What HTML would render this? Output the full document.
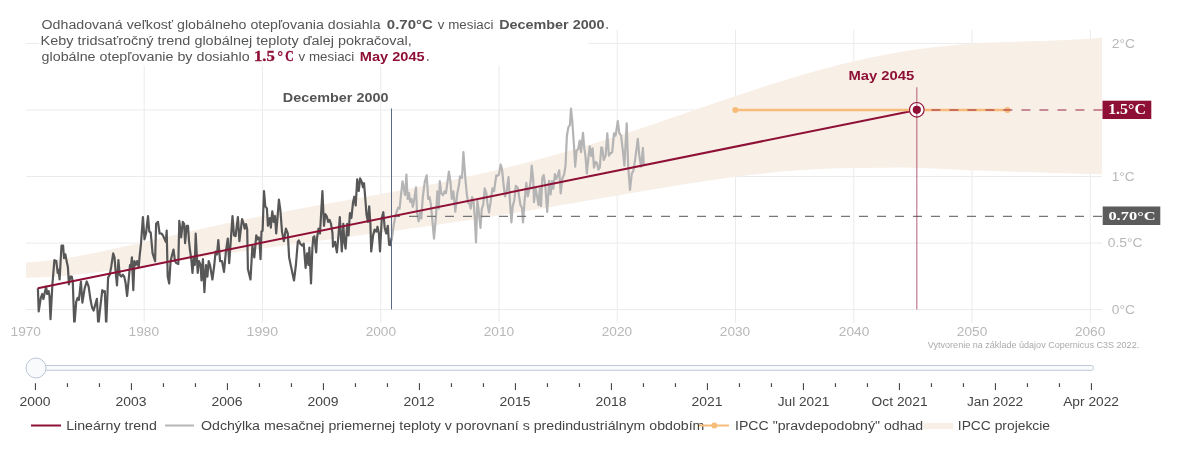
<!DOCTYPE html>
<html><head><meta charset="utf-8"><style>
html,body{margin:0;padding:0;background:#fff;width:1190px;height:450px;overflow:hidden}
svg{display:block;will-change:transform}
</style></head><body>
<svg width="1190" height="450" viewBox="0 0 1190 450">
<rect width="1190" height="450" fill="#fff"/>
<defs><clipPath id="pa"><rect x="26" y="30" width="1076" height="292.6"/></clipPath></defs>
<line x1="144.2" y1="30" x2="144.2" y2="322.6" stroke="#ebebeb" stroke-width="1"/>
<line x1="262.5" y1="30" x2="262.5" y2="322.6" stroke="#ebebeb" stroke-width="1"/>
<line x1="380.7" y1="30" x2="380.7" y2="322.6" stroke="#ebebeb" stroke-width="1"/>
<line x1="499.0" y1="30" x2="499.0" y2="322.6" stroke="#ebebeb" stroke-width="1"/>
<line x1="617.2" y1="30" x2="617.2" y2="322.6" stroke="#ebebeb" stroke-width="1"/>
<line x1="735.5" y1="30" x2="735.5" y2="322.6" stroke="#ebebeb" stroke-width="1"/>
<line x1="853.8" y1="30" x2="853.8" y2="322.6" stroke="#ebebeb" stroke-width="1"/>
<line x1="972.0" y1="30" x2="972.0" y2="322.6" stroke="#ebebeb" stroke-width="1"/>
<line x1="1090.3" y1="30" x2="1090.3" y2="322.6" stroke="#ebebeb" stroke-width="1"/>
<line x1="26" y1="309.6" x2="1102" y2="309.6" stroke="#ebebeb" stroke-width="1"/>
<line x1="26" y1="243.1" x2="1102" y2="243.1" stroke="#ebebeb" stroke-width="1"/>
<line x1="26" y1="176.5" x2="1102" y2="176.5" stroke="#ebebeb" stroke-width="1"/>
<line x1="26" y1="110.0" x2="1102" y2="110.0" stroke="#ebebeb" stroke-width="1"/>
<line x1="26" y1="43.4" x2="1102" y2="43.4" stroke="#ebebeb" stroke-width="1"/>
<path d="M26.0,262.5 L32.8,262.1 L39.5,261.5 L46.3,260.8 L53.1,260.0 L59.8,259.1 L66.6,258.0 L73.4,256.9 L80.1,255.7 L86.9,254.4 L93.7,253.1 L100.4,251.7 L107.2,250.3 L114.0,248.8 L120.7,247.3 L127.5,245.8 L134.3,244.2 L141.0,242.7 L147.8,241.1 L154.6,239.5 L161.3,238.0 L168.1,236.4 L174.9,234.8 L181.6,233.3 L188.4,231.7 L195.2,230.2 L201.9,228.7 L208.7,227.2 L215.5,225.7 L222.3,224.2 L229.0,222.8 L235.8,221.3 L242.6,219.9 L249.3,218.5 L256.1,217.2 L262.9,215.8 L269.6,214.5 L276.4,213.2 L283.2,211.9 L289.9,210.6 L296.7,209.3 L303.5,208.1 L310.2,206.8 L317.0,205.6 L323.8,204.3 L330.5,203.1 L337.3,201.9 L344.1,200.7 L350.8,199.4 L357.6,198.2 L364.4,197.0 L371.1,195.8 L377.9,194.5 L384.7,193.3 L391.4,192.1 L398.2,190.8 L405.0,189.5 L411.7,188.2 L418.5,186.9 L425.3,185.6 L432.0,184.2 L438.8,182.9 L445.6,181.5 L452.3,180.0 L459.1,178.6 L465.9,177.1 L472.6,175.6 L479.4,174.1 L486.2,172.5 L492.9,170.9 L499.7,169.3 L506.5,167.7 L513.2,166.0 L520.0,164.3 L526.8,162.5 L533.5,160.7 L540.3,158.9 L547.1,157.0 L553.8,155.2 L560.6,153.2 L567.4,151.3 L574.2,149.3 L580.9,147.3 L587.7,145.2 L594.5,143.2 L601.2,141.1 L608.0,138.9 L614.8,136.8 L621.5,134.6 L628.3,132.4 L635.1,130.2 L641.8,127.9 L648.6,125.7 L655.4,123.4 L662.1,121.1 L668.9,118.8 L675.7,116.5 L682.4,114.2 L689.2,111.8 L696.0,109.5 L702.7,107.2 L709.5,104.9 L716.3,102.6 L723.0,100.3 L729.8,98.0 L736.6,95.7 L743.3,93.4 L750.1,91.2 L756.9,89.0 L763.6,86.8 L770.4,84.6 L777.2,82.5 L783.9,80.4 L790.7,78.3 L797.5,76.3 L804.2,74.3 L811.0,72.4 L817.8,70.5 L824.5,68.6 L831.3,66.9 L838.1,65.1 L844.8,63.4 L851.6,61.8 L858.4,60.3 L865.1,58.7 L871.9,57.3 L878.7,55.9 L885.4,54.6 L892.2,53.4 L899.0,52.2 L905.7,51.1 L912.5,50.1 L919.3,49.1 L926.1,48.2 L932.8,47.3 L939.6,46.6 L946.4,45.9 L953.1,45.2 L959.9,44.6 L966.7,44.1 L973.4,43.6 L980.2,43.2 L987.0,42.8 L993.7,42.5 L1000.5,42.2 L1007.3,41.9 L1014.0,41.7 L1020.8,41.5 L1027.6,41.3 L1034.3,41.1 L1041.1,40.9 L1047.9,40.7 L1054.6,40.5 L1061.4,40.2 L1068.2,40.0 L1074.9,39.6 L1081.7,39.2 L1088.5,38.8 L1095.2,38.2 L1102.0,37.5 L1102.0,174.2 L1095.2,174.0 L1088.5,173.9 L1081.7,173.7 L1074.9,173.5 L1068.2,173.3 L1061.4,173.1 L1054.6,172.9 L1047.9,172.7 L1041.1,172.5 L1034.3,172.3 L1027.6,172.1 L1020.8,171.9 L1014.0,171.7 L1007.3,171.5 L1000.5,171.2 L993.7,171.0 L987.0,170.8 L980.2,170.6 L973.4,170.4 L966.7,170.1 L959.9,169.8 L953.1,169.5 L946.4,169.2 L939.6,168.8 L932.8,168.5 L926.1,168.2 L919.3,168.0 L912.5,167.8 L905.7,167.6 L899.0,167.6 L892.2,167.6 L885.4,167.7 L878.7,167.7 L871.9,167.8 L865.1,167.9 L858.4,168.0 L851.6,168.1 L844.8,168.2 L838.1,168.3 L831.3,168.5 L824.5,168.8 L817.8,169.1 L811.0,169.4 L804.2,169.8 L797.5,170.2 L790.7,170.7 L783.9,171.3 L777.2,172.0 L770.4,172.7 L763.6,173.4 L756.9,174.2 L750.1,175.0 L743.3,175.8 L736.6,176.7 L729.8,177.6 L723.0,178.5 L716.3,179.4 L709.5,180.4 L702.7,181.4 L696.0,182.5 L689.2,183.5 L682.4,184.6 L675.7,185.7 L668.9,186.8 L662.1,187.9 L655.4,189.0 L648.6,190.1 L641.8,191.3 L635.1,192.4 L628.3,193.6 L621.5,194.8 L614.8,195.9 L608.0,197.1 L601.2,198.3 L594.5,199.4 L587.7,200.6 L580.9,201.8 L574.2,203.0 L567.4,204.1 L560.6,205.3 L553.8,206.4 L547.1,207.6 L540.3,208.7 L533.5,209.8 L526.8,210.9 L520.0,212.0 L513.2,213.1 L506.5,214.2 L499.7,215.3 L492.9,216.3 L486.2,217.4 L479.4,218.4 L472.6,219.5 L465.9,220.5 L459.1,221.5 L452.3,222.5 L445.6,223.5 L438.8,224.5 L432.0,225.4 L425.3,226.4 L418.5,227.4 L411.7,228.3 L405.0,229.2 L398.2,230.2 L391.4,231.1 L384.7,232.0 L377.9,232.9 L371.1,233.8 L364.4,234.7 L357.6,235.6 L350.8,236.6 L344.1,237.5 L337.3,238.4 L330.5,239.3 L323.8,240.2 L317.0,241.1 L310.2,242.0 L303.5,242.9 L296.7,243.8 L289.9,244.7 L283.2,245.7 L276.4,246.6 L269.6,247.5 L262.9,248.5 L256.1,249.4 L249.3,250.4 L242.6,251.4 L235.8,252.3 L229.0,253.3 L222.3,254.3 L215.5,255.3 L208.7,256.3 L201.9,257.3 L195.2,258.3 L188.4,259.3 L181.6,260.4 L174.9,261.4 L168.1,262.4 L161.3,263.4 L154.6,264.4 L147.8,265.4 L141.0,266.4 L134.3,267.4 L127.5,268.4 L120.7,269.3 L114.0,270.2 L107.2,271.1 L100.4,272.0 L93.7,272.8 L86.9,273.6 L80.1,274.3 L73.4,275.0 L66.6,275.6 L59.8,276.2 L53.1,276.7 L46.3,277.1 L39.5,277.4 L32.8,277.6 L26.0,277.8Z" fill="#f8efe7"/>
<rect x="39.3" y="12" width="549.3" height="53.5" fill="#fff"/>
<g clip-path="url(#pa)">
<polyline fill="none" stroke="#b4b4b4" stroke-width="2.2" stroke-linejoin="round" points="391.5,238.0 392.3,235.8 393.8,224.2 395.4,216.4 396.7,211.6 398.1,207.7 399.6,208.7 401.0,195.0 402.5,181.4 403.9,189.3 405.0,195.0 406.4,174.5 407.7,199.0 408.9,193.0 410.2,201.9 411.6,199.0 412.8,206.8 414.1,200.0 416.0,187.4 417.0,212.6 418.6,221.3 419.9,212.6 421.3,218.4 422.8,197.1 424.8,181.6 426.7,175.4 428.2,199.0 429.6,197.1 430.9,204.8 432.1,217.4 434.0,238.7 436.0,216.4 437.3,191.3 438.7,208.7 439.8,181.2 441.2,193.2 443.1,195.1 444.5,191.3 446.0,193.2 447.0,185.5 448.9,171.6 450.3,180.6 451.8,199.0 453.4,191.3 455.3,211.6 457.2,194.2 459.2,183.5 460.0,176.4 462.0,178.0 463.4,152.2 465.4,179.3 466.9,195.1 468.3,202.9 469.6,203.8 470.8,208.7 472.1,197.1 473.5,201.0 474.7,216.4 476.0,242.5 477.4,200.9 478.9,212.6 480.5,228.0 481.8,208.7 483.2,204.8 484.7,188.4 486.3,193.2 487.6,204.8 489.0,212.6 490.5,202.9 492.4,188.4 494.0,191.3 495.4,181.6 496.3,175.4 497.3,175.8 498.8,175.1 500.7,164.5 502.0,169.3 503.6,184.8 505.0,196.4 506.5,192.6 508.5,177.1 510.0,202.2 511.4,222.5 512.7,206.1 514.3,200.3 515.8,185.8 517.8,187.7 519.1,196.4 520.5,205.1 522.0,208.0 523.0,222.5 524.5,202.2 526.3,182.9 527.8,196.4 529.4,188.7 530.7,181.0 531.7,165.5 533.2,179.0 534.0,202.2 535.6,188.7 537.1,196.4 538.5,205.1 539.8,188.7 541.0,206.1 542.3,178.0 543.7,175.1 545.2,184.8 547.2,211.9 549.1,180.9 550.6,194.5 552.0,181.0 553.3,188.7 554.9,174.2 556.4,179.0 557.8,175.1 559.2,170.3 560.7,193.5 562.2,179.0 564.2,174.2 565.5,165.8 566.9,135.8 568.4,127.1 569.9,125.1 571.0,108.7 572.3,121.3 573.9,144.5 575.2,166.7 576.6,150.3 578.1,149.3 579.7,140.6 581.0,152.2 583.0,132.9 584.3,148.4 585.5,156.1 586.8,173.5 588.2,160.0 589.7,146.4 591.3,156.1 592.6,148.4 594.0,167.7 595.5,161.9 597.0,162.9 598.4,169.6 599.8,167.7 601.3,147.4 602.2,147.8 603.8,160.0 605.6,155.6 607.3,133.3 608.9,155.6 610.4,153.3 612.2,152.2 614.0,133.3 615.6,135.6 617.8,121.1 619.3,133.3 621.1,135.6 622.9,151.1 624.4,165.6 626.7,123.3 628.2,166.7 630.0,190.0 631.8,173.3 633.3,171.1 634.9,161.1 637.8,138.9 639.3,155.6 641.1,166.7 642.9,147.8 643.8,164.4"/>
<polyline fill="none" stroke="#575757" stroke-width="2.2" stroke-linejoin="round" points="37.9,288.2 38.7,311.4 40.8,297.9 42.2,294.0 43.4,298.9 44.7,293.1 46.1,286.7 47.2,294.0 48.6,291.1 49.5,296.0 50.5,319.2 52.4,284.4 54.4,260.2 56.3,261.1 57.7,272.8 58.6,269.8 59.6,279.5 61.5,245.7 63.1,245.7 64.0,258.2 65.4,254.4 66.6,261.1 67.9,266.9 68.9,284.4 70.4,276.6 71.8,276.6 72.8,282.4 74.3,326.0 76.2,301.8 77.6,297.9 78.9,299.8 80.9,281.5 82.4,302.7 84.7,288.2 86.7,281.5 88.6,286.3 90.5,299.8 92.1,307.6 93.6,310.5 95.0,305.6 96.9,298.9 98.3,326.0 100.0,309.5 102.3,290.2 103.9,292.1 104.8,291.1 106.2,326.0 108.1,277.6 109.7,274.7 111.2,266.9 113.2,253.4 114.5,257.3 115.9,274.7 117.0,285.3 118.4,260.2 119.7,274.7 121.3,276.6 122.8,274.7 124.2,276.6 125.5,282.4 127.1,296.0 128.6,280.5 130.0,265.0 130.9,266.9 131.9,257.3 133.3,290.2 134.4,261.1 135.8,265.0 137.1,261.1 138.7,266.9 139.7,255.3 141.0,243.7 142.9,217.1 144.5,239.3 146.0,233.5 148.0,216.1 149.3,231.6 150.7,232.5 152.6,253.4 155.1,261.1 156.1,223.8 158.0,221.9 159.6,233.5 161.5,233.5 162.9,235.4 165.8,241.8 166.7,230.6 167.7,276.6 169.2,283.4 170.6,261.1 172.0,255.3 173.5,249.5 175.0,261.1 176.4,263.1 178.3,264.0 179.3,220.9 181.2,237.4 182.8,221.9 184.1,223.8 185.1,243.2 186.7,225.8 188.0,225.8 189.0,241.2 189.9,249.5 191.3,259.2 192.5,272.8 193.8,257.3 194.8,265.0 195.7,233.5 197.7,272.8 199.0,261.1 200.6,265.0 201.5,280.5 202.9,259.2 204.4,292.1 206.0,265.0 207.4,276.6 208.7,261.1 210.0,265.0 212.4,279.5 214.3,265.0 215.6,251.5 217.0,254.4 218.3,240.0 220.1,261.1 222.0,261.0 224.0,271.8 225.9,251.5 227.8,238.5 229.2,263.1 232.5,216.1 234.0,235.4 235.6,236.0 237.9,217.1 239.4,241.2 242.1,219.0 243.7,223.8 244.7,228.7 246.0,224.0 247.2,229.6 247.9,268.9 250.5,279.5 252.4,245.7 254.3,257.3 256.3,235.4 257.6,239.3 258.8,237.4 259.5,240.0 260.5,259.2 261.5,231.6 262.6,230.6 264.0,191.0 265.3,206.4 266.9,208.4 267.9,225.8 269.8,218.0 270.8,227.7 272.3,211.3 273.7,221.9 275.0,216.1 276.2,233.5 277.5,218.0 278.9,199.7 280.4,210.3 282.0,231.6 283.9,241.2 285.9,228.7 287.8,233.5 289.1,257.3 291.1,266.9 294.0,280.5 295.9,265.0 297.8,241.8 298.8,240.3 300.2,243.7 302.3,245.7 303.7,243.7 305.6,267.9 307.1,253.4 308.5,265.0 309.4,247.6 311.0,283.4 312.4,247.6 313.3,237.4 314.3,236.4 316.2,252.4 317.0,238.0 318.5,228.7 320.0,233.5 322.4,191.0 324.0,225.8 325.3,214.2 326.7,216.1 328.2,221.9 329.6,220.0 331.0,223.8 332.5,233.5 333.0,246.6 335.0,241.8 336.9,252.4 338.5,235.0 339.8,217.1 341.8,251.5 343.3,223.8 344.3,241.2 345.6,248.6 347.2,223.8 348.5,235.4 349.9,213.2 351.4,218.0 353.0,202.6 354.3,196.7 355.7,205.5 357.2,179.3 358.8,191.0 360.1,178.4 361.5,181.3 363.0,187.1 364.0,183.2 365.3,198.7 366.5,214.2 367.9,221.9 369.2,206.4 370.4,223.8 371.2,251.5 373.1,235.4 374.6,229.6 376.2,231.6 377.5,226.7 378.9,233.5 380.0,251.5 381.8,218.0 383.3,212.2 384.7,227.7 386.2,233.5 387.8,225.8 389.1,244.7 390.5,245.1 391.5,238.0"/>
</g>
<line x1="391.5" y1="108.5" x2="391.5" y2="309.4" stroke="#5b6a85" stroke-width="1"/>
<line x1="391" y1="216.4" x2="1102" y2="216.4" stroke="#777" stroke-width="1.1" stroke-dasharray="9,9"/>
<line x1="37.8" y1="288.2" x2="916.8" y2="109.9" stroke="#8e1036" stroke-width="2"/>
<line x1="735.3" y1="109.9" x2="1007.5" y2="109.9" stroke="#f7bc7a" stroke-width="2.5"/>
<circle cx="735.3" cy="109.9" r="3" fill="#f7bc7a"/><circle cx="1007.5" cy="109.9" r="3" fill="#f7bc7a"/>
<line x1="913.4" y1="109.9" x2="1102.4" y2="109.9" stroke="#8e1036" stroke-opacity="0.45" stroke-width="2" stroke-dasharray="9,9"/>
<circle cx="916.8" cy="109.8" r="7.3" fill="#fff" stroke="#8e1036" stroke-width="1.1"/><circle cx="916.8" cy="109.8" r="4.1" fill="#8e1036"/>
<line x1="916.8" y1="87.2" x2="916.8" y2="309.4" stroke="#8e1036" stroke-opacity="0.55" stroke-width="1.2"/>
<rect x="1102.5" y="100.7" width="48.8" height="18.3" fill="#8e1036"/>
<rect x="1102.7" y="206.5" width="57.6" height="18.5" fill="#5b5b5b"/>
<rect x="36" y="365.5" width="1057.5" height="4.8" rx="2" fill="#f8fafc" stroke="#bec8d9" stroke-width="1"/>
<circle cx="36" cy="368" r="10" fill="#f8fafc" stroke="#bec8d9" stroke-width="1"/>
<line x1="35.4" y1="383.2" x2="35.4" y2="390" stroke="#333" stroke-width="1"/>
<line x1="67.4" y1="383.2" x2="67.4" y2="387" stroke="#333" stroke-width="1"/>
<line x1="99.4" y1="383.2" x2="99.4" y2="387" stroke="#333" stroke-width="1"/>
<line x1="131.4" y1="383.2" x2="131.4" y2="390" stroke="#333" stroke-width="1"/>
<line x1="163.4" y1="383.2" x2="163.4" y2="387" stroke="#333" stroke-width="1"/>
<line x1="195.4" y1="383.2" x2="195.4" y2="387" stroke="#333" stroke-width="1"/>
<line x1="227.4" y1="383.2" x2="227.4" y2="390" stroke="#333" stroke-width="1"/>
<line x1="259.4" y1="383.2" x2="259.4" y2="387" stroke="#333" stroke-width="1"/>
<line x1="291.4" y1="383.2" x2="291.4" y2="387" stroke="#333" stroke-width="1"/>
<line x1="323.4" y1="383.2" x2="323.4" y2="390" stroke="#333" stroke-width="1"/>
<line x1="355.4" y1="383.2" x2="355.4" y2="387" stroke="#333" stroke-width="1"/>
<line x1="387.4" y1="383.2" x2="387.4" y2="387" stroke="#333" stroke-width="1"/>
<line x1="419.4" y1="383.2" x2="419.4" y2="390" stroke="#333" stroke-width="1"/>
<line x1="451.4" y1="383.2" x2="451.4" y2="387" stroke="#333" stroke-width="1"/>
<line x1="483.4" y1="383.2" x2="483.4" y2="387" stroke="#333" stroke-width="1"/>
<line x1="515.4" y1="383.2" x2="515.4" y2="390" stroke="#333" stroke-width="1"/>
<line x1="547.4" y1="383.2" x2="547.4" y2="387" stroke="#333" stroke-width="1"/>
<line x1="579.4" y1="383.2" x2="579.4" y2="387" stroke="#333" stroke-width="1"/>
<line x1="611.4" y1="383.2" x2="611.4" y2="390" stroke="#333" stroke-width="1"/>
<line x1="643.4" y1="383.2" x2="643.4" y2="387" stroke="#333" stroke-width="1"/>
<line x1="675.4" y1="383.2" x2="675.4" y2="387" stroke="#333" stroke-width="1"/>
<line x1="707.4" y1="383.2" x2="707.4" y2="390" stroke="#333" stroke-width="1"/>
<line x1="739.4" y1="383.2" x2="739.4" y2="387" stroke="#333" stroke-width="1"/>
<line x1="771.4" y1="383.2" x2="771.4" y2="387" stroke="#333" stroke-width="1"/>
<line x1="803.4" y1="383.2" x2="803.4" y2="390" stroke="#333" stroke-width="1"/>
<line x1="835.4" y1="383.2" x2="835.4" y2="387" stroke="#333" stroke-width="1"/>
<line x1="867.4" y1="383.2" x2="867.4" y2="387" stroke="#333" stroke-width="1"/>
<line x1="899.4" y1="383.2" x2="899.4" y2="390" stroke="#333" stroke-width="1"/>
<line x1="931.4" y1="383.2" x2="931.4" y2="387" stroke="#333" stroke-width="1"/>
<line x1="963.4" y1="383.2" x2="963.4" y2="387" stroke="#333" stroke-width="1"/>
<line x1="995.4" y1="383.2" x2="995.4" y2="390" stroke="#333" stroke-width="1"/>
<line x1="1027.4" y1="383.2" x2="1027.4" y2="387" stroke="#333" stroke-width="1"/>
<line x1="1059.4" y1="383.2" x2="1059.4" y2="387" stroke="#333" stroke-width="1"/>
<line x1="1091.4" y1="383.2" x2="1091.4" y2="390" stroke="#333" stroke-width="1"/>
<line x1="31" y1="425.5" x2="61" y2="425.5" stroke="#8e1036" stroke-width="2"/>
<line x1="165" y1="425.5" x2="194" y2="425.5" stroke="#b6b6b6" stroke-width="2"/>
<rect x="923.3" y="423" width="29.8" height="6" fill="#f8efe7"/>
<text x="41.60" y="28.80" font-family="Liberation Sans" font-size="12.5" font-weight="normal" textLength="339.00" lengthAdjust="spacingAndGlyphs" fill="#555">Odhadovaná veľkosť globálneho otepľovania dosiahla</text>
<text x="386.80" y="28.80" font-family="Liberation Sans" font-size="12.5" font-weight="bold" textLength="46.00" lengthAdjust="spacingAndGlyphs" fill="#555">0.70°C</text>
<text x="437.80" y="28.80" font-family="Liberation Sans" font-size="12.5" font-weight="normal" textLength="55.61" lengthAdjust="spacingAndGlyphs" fill="#555">v mesiaci</text>
<text x="499.20" y="28.80" font-family="Liberation Sans" font-size="12.5" font-weight="bold" textLength="105.41" lengthAdjust="spacingAndGlyphs" fill="#555">December 2000</text>
<text x="606.00" y="28.80" font-family="Liberation Sans" font-size="12.5" font-weight="bold" textLength="2.20" lengthAdjust="spacingAndGlyphs" fill="#555">.</text>
<text x="40.60" y="44.80" font-family="Liberation Sans" font-size="12.5" font-weight="normal" textLength="371.21" lengthAdjust="spacingAndGlyphs" fill="#555">Keby tridsaťročný trend globálnej teploty ďalej pokračoval,</text>
<text x="41.60" y="60.60" font-family="Liberation Sans" font-size="12.5" font-weight="normal" textLength="208.00" lengthAdjust="spacingAndGlyphs" fill="#555">globálne otepľovanie by dosiahlo</text>
<text x="254.00" y="60.80" font-family="Liberation Serif" font-size="14.5" font-weight="bold" textLength="20.86" lengthAdjust="spacingAndGlyphs" fill="#8e1036" stroke="#8e1036" stroke-width="0.35">1.5</text>
<text x="277.60" y="60.80" font-family="Liberation Serif" font-size="14.5" font-weight="bold" textLength="5.41" lengthAdjust="spacingAndGlyphs" fill="#8e1036" stroke="#8e1036" stroke-width="0.35">°</text>
<text x="285.20" y="60.80" font-family="Liberation Serif" font-size="14.5" font-weight="bold" textLength="8.44" lengthAdjust="spacingAndGlyphs" fill="#8e1036" stroke="#8e1036" stroke-width="0.35">C</text>
<text x="298.60" y="60.60" font-family="Liberation Sans" font-size="12.5" font-weight="normal" textLength="55.62" lengthAdjust="spacingAndGlyphs" fill="#555">v mesiaci</text>
<text x="359.80" y="60.60" font-family="Liberation Sans" font-size="12.5" font-weight="bold" textLength="64.81" lengthAdjust="spacingAndGlyphs" fill="#8e1036">May 2045</text>
<text x="426.80" y="60.60" font-family="Liberation Sans" font-size="12.5" font-weight="bold" textLength="2.20" lengthAdjust="spacingAndGlyphs" fill="#555">.</text>
<text x="282.80" y="102.00" font-family="Liberation Sans" font-size="12.6" font-weight="bold" textLength="105.61" lengthAdjust="spacingAndGlyphs" fill="#555">December 2000</text>
<text x="848.40" y="80.20" font-family="Liberation Sans" font-size="12.6" font-weight="bold" textLength="65.81" lengthAdjust="spacingAndGlyphs" fill="#8e1036">May 2045</text>
<text x="1108.20" y="114.00" font-family="Liberation Serif" font-size="13.6" font-weight="bold" textLength="37.66" lengthAdjust="spacingAndGlyphs" fill="#fff">1.5°C</text>
<text x="1108.40" y="220.30" font-family="Liberation Serif" font-size="12.9" font-weight="bold" textLength="47.21" lengthAdjust="spacingAndGlyphs" fill="#fff">0.70°C</text>
<text x="1111.80" y="47.90" font-family="Liberation Sans" font-size="12.5" font-weight="normal" textLength="23.21" lengthAdjust="spacingAndGlyphs" fill="#b8b8b8">2°C</text>
<text x="1111.80" y="181.00" font-family="Liberation Sans" font-size="12.5" font-weight="normal" textLength="22.82" lengthAdjust="spacingAndGlyphs" fill="#b8b8b8">1°C</text>
<text x="1107.80" y="247.00" font-family="Liberation Sans" font-size="12.5" font-weight="normal" textLength="34.81" lengthAdjust="spacingAndGlyphs" fill="#b8b8b8">0.5°C</text>
<text x="1111.80" y="313.70" font-family="Liberation Sans" font-size="12.5" font-weight="normal" textLength="23.21" lengthAdjust="spacingAndGlyphs" fill="#b8b8b8">0°C</text>
<text x="10.56" y="335.80" font-family="Liberation Sans" font-size="12.5" font-weight="normal" textLength="30.41" lengthAdjust="spacingAndGlyphs" fill="#b8b8b8">1970</text>
<text x="128.60" y="335.80" font-family="Liberation Sans" font-size="12.5" font-weight="normal" textLength="30.41" lengthAdjust="spacingAndGlyphs" fill="#b8b8b8">1980</text>
<text x="246.64" y="335.80" font-family="Liberation Sans" font-size="12.5" font-weight="normal" textLength="31.43" lengthAdjust="spacingAndGlyphs" fill="#b8b8b8">1990</text>
<text x="365.68" y="335.80" font-family="Liberation Sans" font-size="12.5" font-weight="normal" textLength="30.41" lengthAdjust="spacingAndGlyphs" fill="#b8b8b8">2000</text>
<text x="483.72" y="335.80" font-family="Liberation Sans" font-size="12.5" font-weight="normal" textLength="30.44" lengthAdjust="spacingAndGlyphs" fill="#b8b8b8">2010</text>
<text x="601.76" y="335.80" font-family="Liberation Sans" font-size="12.5" font-weight="normal" textLength="30.41" lengthAdjust="spacingAndGlyphs" fill="#b8b8b8">2020</text>
<text x="719.80" y="335.80" font-family="Liberation Sans" font-size="12.5" font-weight="normal" textLength="30.41" lengthAdjust="spacingAndGlyphs" fill="#b8b8b8">2030</text>
<text x="838.84" y="335.80" font-family="Liberation Sans" font-size="12.5" font-weight="normal" textLength="30.41" lengthAdjust="spacingAndGlyphs" fill="#b8b8b8">2040</text>
<text x="956.88" y="335.80" font-family="Liberation Sans" font-size="12.5" font-weight="normal" textLength="30.41" lengthAdjust="spacingAndGlyphs" fill="#b8b8b8">2050</text>
<text x="1074.92" y="335.80" font-family="Liberation Sans" font-size="12.5" font-weight="normal" textLength="30.41" lengthAdjust="spacingAndGlyphs" fill="#b8b8b8">2060</text>
<text x="927.80" y="348.00" font-family="Liberation Sans" font-size="8.2" font-weight="normal" textLength="211.40" lengthAdjust="spacingAndGlyphs" fill="#aaa">Vytvorenie na základe údajov Copernicus C3S 2022.</text>
<text x="19.60" y="405.60" font-family="Liberation Sans" font-size="12.5" font-weight="normal" textLength="31.00" lengthAdjust="spacingAndGlyphs" fill="#444">2000</text>
<text x="115.60" y="405.60" font-family="Liberation Sans" font-size="12.5" font-weight="normal" textLength="31.00" lengthAdjust="spacingAndGlyphs" fill="#444">2003</text>
<text x="211.60" y="405.60" font-family="Liberation Sans" font-size="12.5" font-weight="normal" textLength="31.00" lengthAdjust="spacingAndGlyphs" fill="#444">2006</text>
<text x="307.60" y="405.60" font-family="Liberation Sans" font-size="12.5" font-weight="normal" textLength="31.00" lengthAdjust="spacingAndGlyphs" fill="#444">2009</text>
<text x="403.60" y="405.60" font-family="Liberation Sans" font-size="12.5" font-weight="normal" textLength="31.00" lengthAdjust="spacingAndGlyphs" fill="#444">2012</text>
<text x="499.60" y="405.60" font-family="Liberation Sans" font-size="12.5" font-weight="normal" textLength="31.00" lengthAdjust="spacingAndGlyphs" fill="#444">2015</text>
<text x="595.60" y="405.60" font-family="Liberation Sans" font-size="12.5" font-weight="normal" textLength="31.00" lengthAdjust="spacingAndGlyphs" fill="#444">2018</text>
<text x="691.60" y="405.60" font-family="Liberation Sans" font-size="12.5" font-weight="normal" textLength="31.00" lengthAdjust="spacingAndGlyphs" fill="#444">2021</text>
<text x="777.80" y="405.60" font-family="Liberation Sans" font-size="12.5" font-weight="normal" textLength="51.60" lengthAdjust="spacingAndGlyphs" fill="#444">Jul 2021</text>
<text x="871.60" y="405.60" font-family="Liberation Sans" font-size="12.5" font-weight="normal" textLength="56.01" lengthAdjust="spacingAndGlyphs" fill="#444">Oct 2021</text>
<text x="967.00" y="405.60" font-family="Liberation Sans" font-size="12.5" font-weight="normal" textLength="56.21" lengthAdjust="spacingAndGlyphs" fill="#444">Jan 2022</text>
<text x="1063.20" y="405.60" font-family="Liberation Sans" font-size="12.5" font-weight="normal" textLength="55.81" lengthAdjust="spacingAndGlyphs" fill="#444">Apr 2022</text>
<text x="66.20" y="429.70" font-family="Liberation Sans" font-size="12.5" font-weight="normal" textLength="90.60" lengthAdjust="spacingAndGlyphs" fill="#444">Lineárny trend</text>
<text x="201.00" y="429.70" font-family="Liberation Sans" font-size="12.5" font-weight="normal" textLength="503.40" lengthAdjust="spacingAndGlyphs" fill="#444">Odchýlka mesačnej priemernej teploty v porovnaní s predindustriálnym obdobím</text>
<text x="735.00" y="429.70" font-family="Liberation Sans" font-size="12.5" font-weight="normal" textLength="188.20" lengthAdjust="spacingAndGlyphs" fill="#444">IPCC &quot;pravdepodobný&quot; odhad</text>
<text x="957.80" y="429.70" font-family="Liberation Sans" font-size="12.5" font-weight="normal" textLength="92.22" lengthAdjust="spacingAndGlyphs" fill="#444">IPCC projekcie</text>
<line x1="699" y1="425.5" x2="729" y2="425.5" stroke="#f7bc7a" stroke-width="2"/><circle cx="714.3" cy="425.5" r="3" fill="#f7bc7a"/>
</svg></body></html>
